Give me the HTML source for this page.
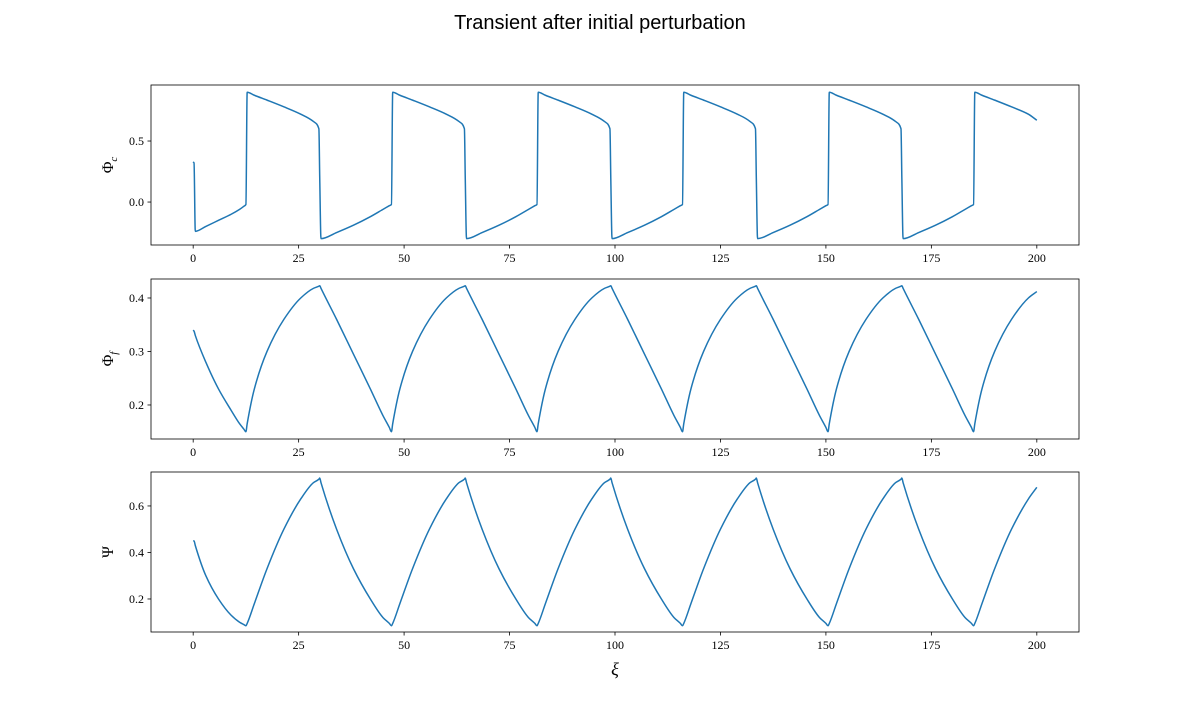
<!DOCTYPE html>
<html><head><meta charset="utf-8"><style>
body{margin:0;background:#fff;}
svg text{font-family:"Liberation Serif","DejaVu Serif",serif;fill:#000;}
</style></head><body>
<svg id="fig" width="1200" height="711" viewBox="0 0 1200 711" xmlns="http://www.w3.org/2000/svg">
<rect width="1200" height="711" fill="#fff"/>
<text x="600" y="29" text-anchor="middle" font-size="20" style="font-family:'Liberation Sans','DejaVu Sans',sans-serif">Transient after initial perturbation</text>
</svg>
<script>
const xs = [0,0.2,0.5,3,6,9,11,12,
12.5,12.8,14.5,17.5,21.5,25.5,28.5,29.8,30,30.3,34,38,42,45,46.5,
47,47.3,49,52,56,60,63,64.3,64.5,64.8,68.5,72.5,76.5,79.5,81,
81.5,81.8,83.5,86.5,90.5,94.5,97.5,98.8,99,99.3,103,107,111,114,115.5,
116,116.3,118,121,125,129,132,133.3,133.5,133.8,137.5,141.5,145.5,148.5,150,
150.5,150.8,152.5,155.5,159.5,163.5,166.5,167.8,168,168.3,172,176,180,183,184.5,
185,185.3,187,190,194,198,200];
const phiC = [0.33,0.32,-0.24,-0.2,-0.15,-0.1,-0.06,-0.035,
-0.02,0.9,0.875,0.835,0.78,0.72,0.66,0.6,0.2,-0.3,-0.25,-0.19,-0.12,-0.06,-0.03,
-0.02,0.9,0.875,0.835,0.78,0.72,0.66,0.6,0.2,-0.3,-0.25,-0.19,-0.12,-0.06,-0.03,
-0.02,0.9,0.875,0.835,0.78,0.72,0.66,0.6,0.2,-0.3,-0.25,-0.19,-0.12,-0.06,-0.03,
-0.02,0.9,0.875,0.835,0.78,0.72,0.66,0.6,0.2,-0.3,-0.25,-0.19,-0.12,-0.06,-0.03,
-0.02,0.9,0.875,0.835,0.78,0.72,0.66,0.6,0.2,-0.3,-0.25,-0.19,-0.12,-0.06,-0.03,
-0.02,0.9,0.875,0.835,0.78,0.72,0.67];
const phiF = [0.34,0.338,0.33,0.28,0.23,0.19,0.165,0.155,
0.15,0.165,0.23,0.3,0.36,0.4,0.418,0.422,0.423,0.418,0.36,0.295,0.23,0.18,0.158,
0.15,0.165,0.23,0.3,0.36,0.4,0.418,0.422,0.423,0.418,0.36,0.295,0.23,0.18,0.158,
0.15,0.165,0.23,0.3,0.36,0.4,0.418,0.422,0.423,0.418,0.36,0.295,0.23,0.18,0.158,
0.15,0.165,0.23,0.3,0.36,0.4,0.418,0.422,0.423,0.418,0.36,0.295,0.23,0.18,0.158,
0.15,0.165,0.23,0.3,0.36,0.4,0.418,0.422,0.423,0.418,0.36,0.295,0.23,0.18,0.158,
0.15,0.165,0.23,0.3,0.36,0.4,0.412];
const psi = [0.45,0.45,0.43,0.3,0.2,0.13,0.1,0.09,
0.085,0.095,0.18,0.33,0.5,0.63,0.7,0.715,0.72,0.7,0.5,0.33,0.2,0.12,0.095,
0.085,0.095,0.18,0.33,0.5,0.63,0.7,0.715,0.72,0.7,0.5,0.33,0.2,0.12,0.095,
0.085,0.095,0.18,0.33,0.5,0.63,0.7,0.715,0.72,0.7,0.5,0.33,0.2,0.12,0.095,
0.085,0.095,0.18,0.33,0.5,0.63,0.7,0.715,0.72,0.7,0.5,0.33,0.2,0.12,0.095,
0.085,0.095,0.18,0.33,0.5,0.63,0.7,0.715,0.72,0.7,0.5,0.33,0.2,0.12,0.095,
0.085,0.095,0.18,0.33,0.5,0.63,0.68];
const xTicks = [0,25,50,75,100,125,150,175,200];
const yTicks1 = [0.0,0.5];
const yTicks2 = [0.2,0.3,0.4];
const yTicks3 = [0.2,0.4,0.6];

const svg = document.getElementById('fig');
const NS = 'http://www.w3.org/2000/svg';
const L = 151, R = 1079, xmin = -10, xmax = 210;
const xScale = v => L + (v - xmin) / (xmax - xmin) * (R - L);

function mk(tag, attrs, parent){
  const e = document.createElementNS(NS, tag);
  for (const k in attrs) e.setAttribute(k, attrs[k]);
  (parent || svg).appendChild(e);
  return e;
}

// monotone cubic (Fritsch-Carlson) path through screen points
function monotonePath(px, py){
  const n = px.length;
  const dx = [], s = [];
  for (let i = 0; i < n-1; i++){ dx.push(px[i+1]-px[i]); s.push((py[i+1]-py[i])/(dx[i]||1e-9)); }
  const m = new Array(n);
  m[0] = s[0]; m[n-1] = s[n-2];
  for (let i = 1; i < n-1; i++){
    if (s[i-1]*s[i] <= 0) m[i] = 0;
    else {
      const w1 = 2*dx[i]+dx[i-1], w2 = dx[i]+2*dx[i-1];
      m[i] = (w1+w2)/(w1/s[i-1]+w2/s[i]);
    }
  }
  let d = 'M' + px[0].toFixed(2) + ' ' + py[0].toFixed(2);
  for (let i = 0; i < n-1; i++){
    const h = dx[i]/3;
    d += 'C' + (px[i]+h).toFixed(2) + ' ' + (py[i]+m[i]*h).toFixed(2) + ' ' +
         (px[i+1]-h).toFixed(2) + ' ' + (py[i+1]-m[i+1]*h).toFixed(2) + ' ' +
         px[i+1].toFixed(2) + ' ' + py[i+1].toFixed(2);
  }
  return d;
}

const panels = [
  {name:'phi-c', top:85, bottom:245, ymin:-0.352, ymax:0.959, data:phiC, ticks:yTicks1, dec:1, label:'Φ', sub:'c'},
  {name:'phi-f', top:279, bottom:439, ymin:0.1364, ymax:0.4355, data:phiF, ticks:yTicks2, dec:1, label:'Φ', sub:'f'},
  {name:'psi', top:472, bottom:632, ymin:0.058, ymax:0.746, data:psi, ticks:yTicks3, dec:1, label:'Ψ', sub:''}
];

panels.forEach(p => {
  const g = mk('g', {});
  
  
  const yScale = v => p.bottom - (v - p.ymin) / (p.ymax - p.ymin) * (p.bottom - p.top);
  const d = monotonePath(xs.map(xScale), p.data.map(yScale));
  const line = mk('path', {d:d, fill:'none', stroke:'#1f77b4', 'stroke-width':1.5, 'stroke-linejoin':'round'}, g);
  
  
  const fr = mk('rect', {x:L, y:p.top, width:R-L, height:p.bottom-p.top, fill:'none', stroke:'#000', 'stroke-width':0.8}, g);
  
  
  xTicks.forEach(t => {
    const x = xScale(t);
    mk('line', {x1:x, x2:x, y1:p.bottom, y2:p.bottom+3.5, stroke:'#000', 'stroke-width':0.8}, g);
    const tx = mk('text', {x:x, y:p.bottom+17, 'text-anchor':'middle', 'font-size':12}, g);
    
    
    tx.textContent = t;
  });
  p.ticks.forEach(t => {
    const y = yScale(t);
    mk('line', {x1:L-3.5, x2:L, y1:y, y2:y, stroke:'#000', 'stroke-width':0.8}, g);
    const ty = mk('text', {x:L-7, y:y+4, 'text-anchor':'end', 'font-size':12}, g);
    
    
    ty.textContent = t.toFixed(p.dec);
  });
  const cy = (p.top + p.bottom) / 2;
  const yl = mk('text', {x:0, y:0, 'font-size':16, 'text-anchor':'middle', transform:`translate(113,${cy}) rotate(-90)`}, g);
  
  
  yl.textContent = p.label;
  if (p.sub) {
    const s = mk('tspan', {'font-size':11, 'font-style':'italic', dy:4}, yl);
    s.textContent = p.sub;
  }
});

const xl = mk('text', {x:615, y:675, 'text-anchor':'middle', 'font-size':18, 'font-style':'italic'});


xl.textContent = 'ξ';
</script>
</body></html>
